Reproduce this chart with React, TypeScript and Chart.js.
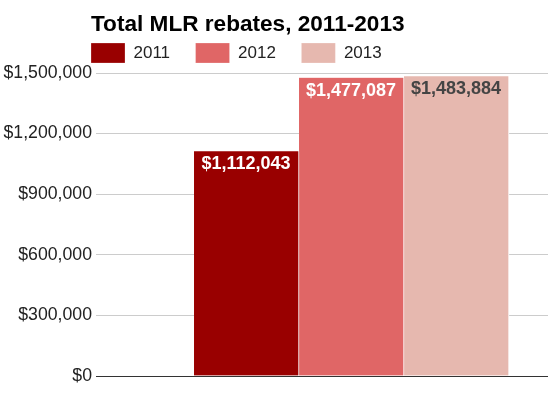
import React, { useEffect, useRef } from "react";
import { Chart, registerables } from "chart.js";

Chart.register(...registerables);

const chartTitle = "Total MLR rebates, 2011-2013";
const seriesNames = ["2011", "2012", "2013"];
const seriesValues = [1112043, 1477087, 1483884];
const seriesColors = ["#990000", "#e06666", "#e6b8af"];
const valueLabelColors = ["#ffffff", "#ffffff", "#444444"];
const yTickValues = [0, 300000, 600000, 900000, 1200000, 1500000];
const groupPosition = 0.5653;

const FONT = "'Liberation Sans', Arial, sans-serif";
const LEGEND_PAD = 25.5;
const money = (v: number) => "$" + Math.round(v).toLocaleString("en-US");

const titlePlugin = {
  id: "leftTitle",
  beforeDraw(chart: any) {
    if (chart.legend) chart.legend.left = chart.chartArea.left - 5 - LEGEND_PAD;
  },
  afterDraw(chart: any) {
    const { ctx, chartArea } = chart;
    ctx.save();
    ctx.font = `bold 22.6px ${FONT}`;
    ctx.fillStyle = "#000000";
    ctx.textAlign = "left";
    ctx.textBaseline = "alphabetic";
    ctx.fillText(chartTitle, chartArea.left - 5, 31);
    ctx.restore();
  },
};

const valueLabelPlugin = {
  id: "valueLabels",
  afterDatasetsDraw(chart: any) {
    const { ctx } = chart;
    ctx.save();
    ctx.font = `bold 18px ${FONT}`;
    ctx.textAlign = "center";
    ctx.textBaseline = "top";
    chart.data.datasets.forEach((ds: any, i: number) => {
      const meta = chart.getDatasetMeta(i);
      meta.data.forEach((bar: any, j: number) => {
        const v = ds.data[j].y;
        ctx.fillStyle = valueLabelColors[i];
        ctx.fillText(money(v), bar.x - 0.5, bar.y + 4);
      });
    });
    ctx.restore();
  },
};

export default function App() {
  const ref = useRef<HTMLCanvasElement>(null);
  useEffect(() => {
    if (!ref.current) return;
    const chart = new Chart(ref.current, {
      type: "bar",
      data: {
        datasets: seriesNames.map((name, i) => ({
          label: name,
          data: [{ x: groupPosition, y: seriesValues[i] }],
          backgroundColor: seriesColors[i],
          borderColor: "#ffffff",
          borderWidth: { top: 0, right: 1, bottom: 0, left: 0 },
          borderSkipped: false,
          barThickness: 105,
        })),
      },
      options: {
        animation: false,
        responsive: false,
        maintainAspectRatio: false,
        layout: { padding: { left: 0, right: 5, top: 17.5, bottom: 23 } },
        plugins: {
          title: { display: false },
          tooltip: { enabled: false },
          legend: {
            display: true,
            position: "top",
            align: "start",
            labels: {
              boxWidth: 34,
              boxHeight: 20,
              padding: LEGEND_PAD,
              color: "#222222",
              font: { family: FONT, size: 17 },
            },
          },
        },
        scales: {
          x: {
            type: "linear",
            display: false,
            min: 0,
            max: 1,
            offset: false,
          },
          y: {
            min: 0,
            max: 1500000,
            afterFit: (s: any) => {
              s.width = 96;
            },
            afterBuildTicks: (s: any) => {
              s.ticks = yTickValues.map((v) => ({ value: v }));
            },
            border: { display: false },
            grid: {
              drawTicks: false,
              color: (c: any) => (c.tick && c.tick.value === 0 ? "#333333" : "#cccccc"),
              lineWidth: 1,
            },
            ticks: {
              padding: 4,
              color: "#222222",
              font: { family: FONT, size: 17.7 },
              callback: (v: any) => money(Number(v)),
            },
          },
        },
      },
      plugins: [titlePlugin, valueLabelPlugin],
    });
    return () => chart.destroy();
  }, []);
  return (
    <div style={{ position: "absolute", left: 0, top: 0, width: 553, height: 399, background: "#fff" }}>
      <canvas ref={ref} width={553} height={399} style={{ display: "block" }} />
    </div>
  );
}
